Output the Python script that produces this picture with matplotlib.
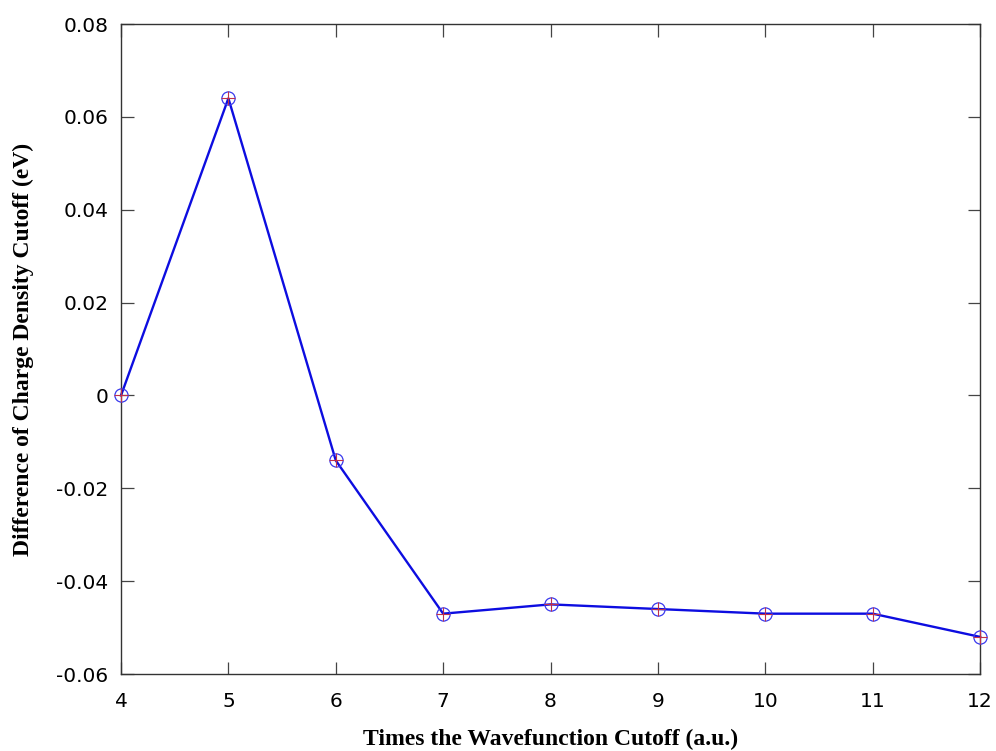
import numpy as np
import matplotlib.pyplot as plt

# times the wavefunction cutoff vs. difference of charge density cutoff (eV)
cutoff = [4, 5, 6, 7, 8, 9, 10, 11, 12]
diff_ev = [0.0, 0.064, -0.014, -0.047, -0.045, -0.046, -0.047, -0.047, -0.052]

x_ticks = [4, 5, 6, 7, 8, 9, 10, 11, 12]
y_ticks = [-0.06, -0.04, -0.02, 0, 0.02, 0.04, 0.06, 0.08]
y_labels = ['-0.06', '-0.04', '-0.02', '0', '0.02', '0.04', '0.06', '0.08']

fig = plt.figure(figsize=(9.96, 7.51), dpi=100)
ax = fig.add_axes([0.1215, 0.1025, 0.8625, 0.8655])

ax.plot(cutoff, diff_ev, color='#0d0de0', lw=1.7, zorder=2, clip_on=False)
ax.plot(cutoff, diff_ev, ls='none', marker='o', ms=9.5, mfc='none',
        mec='#3a3aee', mew=0.9, zorder=3, clip_on=False)
ax.plot(cutoff, diff_ev, ls='none', marker='+', ms=9.5, mec='#c0304a',
        mew=0.8, zorder=4, clip_on=False)

ax.set_xlim(4, 12)
ax.set_ylim(-0.06, 0.08)
ax.set_xticks(x_ticks)
ax.set_yticks(y_ticks)
ax.set_yticklabels(y_labels)

ax.tick_params(direction='in', length=9, width=0.9, color='#444444',
               top=True, right=True, labelsize=14.5)
ax.tick_params(axis='x', pad=13)
ax.tick_params(axis='y', pad=9)
for s in ax.spines.values():
    s.set_color('#333333')
    s.set_linewidth(1.0)

ax.set_xlabel('Times the Wavefunction Cutoff (a.u.)', family='Liberation Serif',
              fontweight='bold', fontsize=17, labelpad=13)
ax.set_ylabel('Difference of Charge Density Cutoff (eV)', family='Liberation Serif',
              fontweight='bold', fontsize=17, labelpad=16)

plt.savefig('out.png', dpi=100)
